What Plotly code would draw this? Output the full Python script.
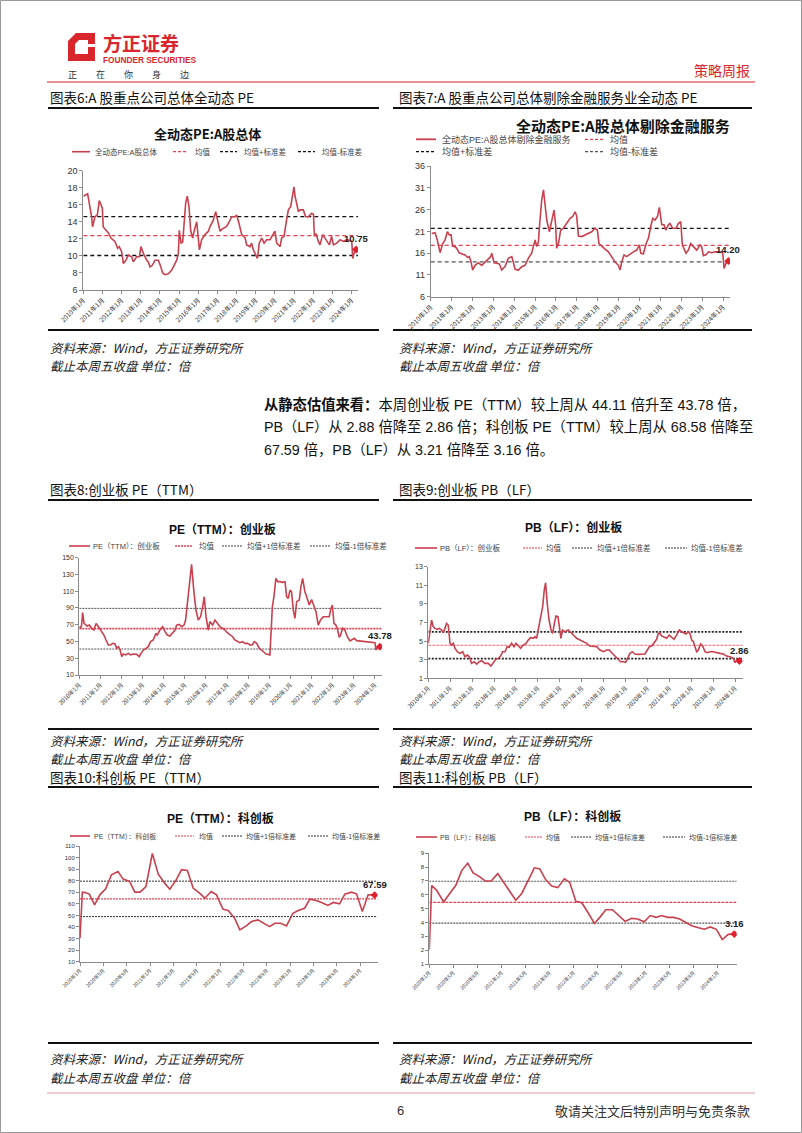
import numpy as np
import pandas as pd
import plotly.graph_objects as go

W, H = 802, 1133
CN = "Noto Sans CJK SC"
MIX = "Liberation Sans, Noto Sans CJK SC"

# ---------------- data: month offsets from series start / values ----------------
c6_m = [0, 2.7, 5.2, 5.8, 7.3, 8.8, 10.0, 11.1, 11.9, 12.5,
        13.6, 15.7, 17.3, 19.8, 21.5, 22.5, 24.0, 25.1, 26.7, 28.2,
        30.3, 31.3, 33.4, 35.1, 36.1, 37.6, 39.7, 40.7, 41.8, 43.2,
        44.9, 47.0, 48.4, 49.7, 51.1, 53.2, 55.3, 57.4, 58.5, 59.5,
        60.1, 61.2, 62.2, 63.3, 64.1, 65.1, 66.2, 67.2, 68.5, 69.5,
        71.0, 72.7, 74.1, 76.2, 78.3, 79.3, 81.4, 82.9, 84.6, 85.6,
        87.3, 89.4, 90.8, 92.9, 95.0, 96.0, 97.5, 99.2, 101.3, 102.3,
        104.4, 105.4, 106.5, 108.1, 109.0, 110.2, 111.7, 113.2, 114.8, 116.9,
        119.0, 120.0, 121.1, 122.1, 123.2, 124.2, 125.7, 126.9, 128.4, 129.9,
        130.9, 131.9, 132.6, 133.6, 134.7, 135.7, 137.8, 139.2, 140.9, 143.0,
        144.1, 144.7, 145.7, 147.2, 148.2, 149.9, 151.4, 152.4, 154.1, 155.5,
        156.6, 158.7, 160.8, 162.8, 164.9, 167.0, 168.1, 168.7, 169.5, 170.8]
c6_v = [17.0, 17.3, 14.6, 13.4, 14.6, 14.8, 16.5, 15.8, 15.6, 13.4,
        13.2, 12.7, 12.1, 11.7, 10.9, 11.1, 10.5, 9.1, 9.5, 10.1,
        9.9, 9.3, 9.9, 9.9, 11.1, 10.3, 9.5, 9.3, 8.7, 8.9,
        9.5, 9.5, 8.8, 8.0, 7.8, 7.9, 8.3, 9.1, 9.5, 10.3,
        13.0, 11.5, 11.6, 14.2, 16.2, 17.0, 15.8, 13.0, 12.1, 13.0,
        14.0, 10.7, 11.9, 12.5, 12.9, 13.4, 14.2, 15.2, 13.8, 12.9,
        13.2, 13.4, 13.8, 14.6, 14.6, 14.8, 13.8, 12.5, 12.1, 11.3,
        11.1, 11.5, 10.7, 9.9, 9.7, 11.5, 12.1, 11.5, 11.9, 11.9,
        12.5, 12.9, 11.5, 11.3, 11.1, 12.1, 12.3, 13.8, 15.4, 15.8,
        17.3, 18.1, 17.0, 16.2, 15.2, 15.4, 15.4, 14.6, 14.6, 15.0,
        14.9, 12.3, 12.6, 11.7, 11.3, 12.5, 12.1, 11.7, 11.3, 12.3,
        11.3, 11.5, 11.9, 11.7, 11.9, 11.8, 11.7, 9.7, 10.3, 10.75]
c6_ref = [12.37, 14.6, 10.05]

c7_m = [0.6, 2.5, 3.8, 5.4, 6.9, 8.2, 9.6, 10.7, 11.7, 12.6,
        14.0, 14.9, 16.5, 17.8, 19.7, 21.3, 22.2, 23.2, 24.1, 25.5,
        27.4, 29.3, 31.2, 33.1, 34.5, 35.1, 36.4, 37.9, 39.5, 40.8,
        42.7, 44.6, 46.6, 48.5, 50.4, 52.3, 54.2, 56.1, 58.0, 59.0,
        60.0, 60.9, 61.9, 62.8, 63.8, 64.8, 65.7, 66.7, 68.2, 69.5,
        70.9, 71.8, 72.4, 73.4, 74.7, 76.2, 78.2, 80.1, 81.6, 83.0,
        83.9, 84.9, 86.8, 88.7, 90.6, 92.5, 94.4, 95.8, 96.7, 98.3,
        100.2, 102.1, 104.0, 105.9, 107.9, 108.8, 109.8, 111.1, 112.6, 114.6,
        116.5, 118.4, 119.9, 120.7, 122.2, 123.8, 125.1, 126.4, 127.6, 128.9,
        130.3, 131.4, 132.8, 134.1, 135.1, 136.6, 137.5, 139.1, 141.0, 142.3,
        143.7, 144.6, 145.6, 146.7, 148.1, 149.4, 151.0, 152.9, 154.8, 155.7,
        156.7, 158.2, 159.6, 161.5, 163.4, 165.9, 167.8, 168.6, 169.7, 171.1]
c7_v = [20.5, 20.7, 19.0, 16.1, 18.2, 19.0, 20.9, 20.2, 20.2, 17.6,
        17.5, 17.1, 16.0, 15.8, 15.6, 15.0, 15.2, 14.0, 12.1, 13.2,
        13.8, 13.2, 14.0, 14.8, 15.2, 16.0, 13.8, 13.7, 13.5, 12.1,
        12.9, 14.8, 15.2, 12.3, 12.1, 12.9, 13.2, 14.8, 16.0, 17.5,
        19.0, 17.5, 18.6, 23.6, 28.2, 30.5, 27.8, 23.6, 20.9, 23.6,
        25.9, 22.5, 17.1, 18.2, 21.3, 21.7, 22.8, 24.0, 24.4, 25.5,
        24.5, 19.9, 19.8, 20.2, 20.5, 20.9, 21.7, 21.3, 18.2, 17.5,
        16.9, 16.3, 15.2, 14.0, 13.2, 12.1, 14.0, 15.6, 15.2, 15.8,
        16.3, 16.7, 17.9, 16.0, 15.8, 18.2, 19.4, 22.0, 24.0, 23.6,
        24.4, 26.5, 22.5, 22.5, 21.3, 22.5, 22.8, 21.7, 21.7, 22.8,
        23.2, 17.9, 17.1, 16.0, 16.7, 18.2, 17.5, 16.7, 17.9, 17.5,
        15.4, 15.6, 16.3, 16.1, 16.3, 16.3, 16.1, 12.5, 13.7, 14.2]
c7_ref = [17.8, 21.7, 14.0]

c8_m = [0, 0.8, 1.3, 1.9, 2.7, 3.6, 4.5, 5.7, 7.0, 8.3,
        9.5, 10.2, 11.4, 12.7, 14.0, 15.2, 16.5, 17.8, 18.9, 20.3,
        21.2, 22.2, 23.1, 24.1, 25.0, 26.5, 27.8, 29.2, 30.7, 32.6,
        34.1, 34.8, 36.4, 37.9, 39.2, 40.5, 42.0, 43.6, 44.3, 45.8,
        47.3, 48.7, 50.0, 51.5, 53.0, 54.4, 55.3, 56.8, 58.1, 59.5,
        60.4, 61.4, 62.5, 63.8, 65.2, 66.3, 67.6, 68.9, 70.1, 71.0,
        72.0, 73.3, 74.2, 75.8, 77.1, 78.4, 79.9, 81.4, 82.8, 84.1,
        85.6, 87.1, 88.4, 90.0, 91.3, 92.8, 94.1, 95.5, 97.0, 98.3,
        99.4, 100.8, 102.3, 103.6, 104.9, 106.1, 107.4, 108.3, 109.7, 110.6,
        111.7, 112.7, 114.0, 115.3, 116.9, 117.8, 118.8, 119.7, 120.6, 121.6,
        122.5, 123.5, 125.0, 125.9, 126.9, 128.2, 129.2, 130.7, 132.0, 133.3,
        134.5, 135.8, 137.1, 138.6, 140.5, 142.0, 143.0, 143.8, 144.7, 145.8,
        146.8, 147.7, 148.5, 149.6, 150.9, 152.3, 153.8, 155.1, 156.3, 157.6,
        159.5, 162.3, 165.2, 168.0, 168.6, 169.3, 170.8]
c8_v = [67.7, 65.7, 69.6, 84.4, 71.6, 69.6, 68.4, 69.6, 65.7, 63.7,
        71.6, 69.6, 65.7, 61.7, 57.7, 51.8, 45.8, 45.8, 47.8, 47.0,
        41.8, 43.8, 40.6, 31.9, 35.0, 33.9, 35.8, 33.9, 35.0, 34.6,
        31.9, 35.0, 39.8, 41.8, 43.8, 49.8, 51.8, 59.7, 57.7, 63.7,
        67.7, 61.7, 57.7, 56.5, 60.5, 63.7, 69.6, 70.4, 67.7, 69.6,
        75.6, 95.5, 115.4, 142.0, 107.4, 87.5, 75.6, 79.6, 91.5, 103.4,
        79.6, 63.7, 73.7, 69.6, 75.6, 71.6, 67.7, 65.7, 63.7, 60.5,
        57.7, 55.7, 51.8, 49.8, 48.6, 49.8, 47.8, 47.8, 45.8, 45.8,
        49.8, 47.8, 41.8, 39.8, 36.6, 35.0, 34.6, 33.9, 91.5, 103.4,
        125.3, 121.4, 121.4, 120.6, 121.4, 103.4, 101.5, 111.4, 109.4, 87.5,
        77.6, 97.5, 99.5, 115.4, 125.3, 109.4, 103.4, 93.5, 100.2, 91.5,
        85.6, 69.6, 75.6, 79.6, 79.6, 79.6, 89.5, 93.5, 71.6, 69.6,
        63.7, 55.0, 57.7, 65.7, 63.7, 55.7, 50.6, 52.6, 53.8, 51.0,
        50.6, 49.8, 49.0, 48.6, 39.8, 43.0, 43.78]
c8_ref = [65.3, 89.5, 41.0]

c9_m = [0, 0.9, 1.8, 2.7, 3.6, 4.9, 6.0, 7.3, 8.2, 9.1,
        10.0, 10.9, 11.9, 12.8, 13.7, 14.6, 15.9, 17.3, 18.8, 20.1,
        21.4, 22.4, 23.7, 25.0, 26.5, 27.9, 29.2, 31.0, 32.8, 34.3,
        35.6, 36.9, 38.3, 39.6, 40.7, 42.0, 43.2, 44.3, 45.6, 46.9,
        48.0, 49.3, 50.5, 52.0, 53.5, 54.7, 56.0, 57.5, 58.4, 59.3,
        60.2, 61.5, 62.6, 63.5, 64.2, 65.1, 66.1, 67.2, 68.1, 69.0,
        69.9, 71.0, 71.7, 72.6, 73.5, 74.8, 76.6, 77.9, 79.4, 81.2,
        83.0, 84.9, 86.7, 88.5, 90.3, 92.2, 94.0, 95.8, 97.6, 99.1,
        100.4, 102.2, 104.0, 105.3, 106.8, 108.0, 109.1, 110.4, 111.7, 113.1,
        115.0, 116.8, 118.6, 119.9, 121.0, 122.3, 123.5, 125.0, 125.9, 126.8,
        127.7, 129.0, 130.5, 131.9, 133.2, 134.5, 135.9, 137.4, 138.7, 140.0,
        141.1, 142.3, 143.2, 144.2, 145.1, 146.0, 146.9, 147.8, 149.1, 150.2,
        151.5, 152.7, 154.2, 156.0, 157.8, 159.7, 161.5, 163.3, 165.1, 167.0,
        167.9, 168.8, 170.3]
c9_v = [4.76, 6.19, 7.27, 6.55, 6.37, 6.26, 6.37, 6.19, 5.9, 6.37,
        6.9, 6.73, 4.76, 4.58, 4.76, 4.22, 3.86, 3.68, 3.86, 3.32,
        3.5, 3.32, 2.61, 2.78, 2.53, 2.78, 2.89, 2.61, 2.61, 2.32,
        2.68, 3.04, 3.14, 3.39, 3.86, 3.86, 4.4, 4.33, 4.76, 4.4,
        4.76, 4.47, 4.22, 4.58, 4.76, 5.11, 5.37, 5.3, 5.47, 5.3,
        6.19, 7.63, 8.7, 10.5, 11.28, 9.06, 7.27, 6.19, 5.83, 6.9,
        7.7, 7.63, 6.37, 5.3, 6.19, 6.0, 6.19, 5.9, 5.65, 5.3,
        5.11, 5.0, 4.76, 4.47, 4.4, 4.4, 4.04, 3.86, 4.04, 4.04,
        3.75, 3.39, 3.04, 2.78, 2.78, 2.71, 3.14, 3.68, 3.86, 3.61,
        3.57, 3.61, 3.61, 4.04, 4.4, 4.47, 4.76, 5.19, 5.83, 5.83,
        5.55, 5.4, 5.3, 5.65, 5.47, 5.19, 5.65, 6.19, 6.0, 5.83,
        5.76, 6.0, 5.83, 5.11, 4.94, 4.4, 3.86, 4.04, 4.69, 4.47,
        3.86, 3.75, 3.86, 3.86, 3.75, 3.68, 3.61, 3.39, 3.32, 3.14,
        2.68, 2.96, 2.86]
c9_ref = [4.55, 6.0, 3.12]

c10_m = [0, 0.4, 0.9, 1.6, 2.5, 3.4, 4.4, 5.4, 6.5, 7.4,
         8.5, 9.4, 10.3, 11.3, 12.4, 13.4, 14.5, 15.4, 16.5, 17.4,
         18.4, 19.4, 20.5, 21.4, 22.5, 23.4, 24.5, 25.4, 26.5, 27.4,
         28.5, 29.4, 30.5, 31.4, 32.5, 33.4, 34.4, 35.4, 36.5, 37.4,
         38.5, 39.4, 40.5, 41.4, 42.5, 43.4, 44.5, 45.4, 46.5, 47.4,
         48.4, 49.4, 50.5]
c10_v = [30.2, 70.1, 69.8, 68.4, 59.1, 67.8, 73.0, 85.1, 88.0, 81.4,
         79.4, 70.1, 70.1, 75.0, 103.5, 85.9, 77.9, 72.7, 80.8, 89.5,
         88.9, 73.6, 69.2, 64.9, 70.7, 67.8, 55.4, 54.2, 47.6, 37.5,
         40.9, 44.7, 46.1, 43.8, 40.3, 43.2, 43.2, 40.9, 51.9, 54.2,
         56.2, 64.0, 62.9, 61.2, 58.6, 61.2, 60.0, 68.4, 70.1, 68.7,
         53.4, 67.8, 67.59]
c10_ref = [64.3, 79.6, 49.0]

c11_m = [0, 0.4, 1.2, 2.4, 3.4, 4.4, 5.4, 6.4, 7.3, 8.3,
         9.3, 10.3, 11.4, 12.3, 13.4, 14.4, 15.4, 16.4, 17.5, 18.4,
         19.4, 20.4, 21.4, 22.5, 23.4, 24.4, 25.4, 26.4, 27.5, 28.4,
         29.4, 30.5, 31.5, 32.6, 33.7, 34.7, 35.8, 36.8, 37.8, 38.7,
         39.7, 40.7, 41.7, 42.7, 43.7, 44.7, 45.8, 46.8, 47.8, 48.8,
         49.8, 50.8]
c11_v = [2.03, 6.67, 6.34, 5.48, 6.1, 6.67, 7.75, 8.29, 7.58, 7.33,
         7.0, 7.0, 7.53, 6.96, 6.22, 5.61, 6.1, 7.0, 7.95, 7.87,
         7.08, 6.64, 6.52, 7.16, 6.89, 5.53, 5.43, 4.74, 3.93, 4.37,
         4.92, 4.92, 4.5, 4.08, 4.3, 4.25, 4.05, 4.5, 4.37, 4.5,
         4.37, 4.37, 4.25, 4.0, 3.76, 3.64, 3.51, 3.68, 3.51, 2.77,
         3.14, 3.16]
c11_ref = [5.46, 6.98, 3.95]

long_ticks = ["2010年1月", "2011年1月", "2012年1月", "2013年1月", "2014年1月",
              "2015年1月", "2016年1月", "2017年1月", "2018年1月", "2019年1月",
              "2020年1月", "2021年1月", "2022年1月", "2023年1月", "2024年1月"]
short_ticks = ["2020年1月", "2020年5月", "2020年9月", "2021年1月", "2021年5月",
               "2021年9月", "2022年1月", "2022年5月", "2022年9月", "2023年1月",
               "2023年5月", "2023年9月", "2024年1月"]
long_tickvals = pd.date_range("2010-01-01", periods=len(long_ticks), freq="12MS")
short_tickvals = pd.date_range("2020-01-01", periods=len(short_ticks), freq="4MS")


def to_dates(start, months):
    return pd.Timestamp(start) + pd.to_timedelta(np.asarray(months, dtype=float) * 30.436875, unit="D")


LINE = "#C7414F"
RED = "#E8404F"

charts = [
    dict(start="2010-01-01", m=c6_m, v=c6_v, ref=c6_ref, span=172,
         xd=(83.3, 358), yd=(170.7, 290), yr=(6, 20), dt=2,
         tv=long_tickvals, tt=long_ticks, yfs=9, xfs=6.5, lab="10.75",
         styles=[(RED, "4px,3px", 1.3), ("#111", "4px,3px", 1.3), ("#111", "4px,3px", 1.3)]),
    dict(start="2010-01-01", m=c7_m, v=c7_v, ref=c7_ref, span=172,
         xd=(430.7, 730), yd=(166, 296.7), yr=(6, 36), dt=5,
         tv=long_tickvals, tt=long_ticks, yfs=9, xfs=6.5, lab="14.20",
         styles=[(RED, "4px,3px", 1.3), ("#111", "4px,3px", 1.3), ("#555", "4px,3px", 1.3)]),
    dict(start="2010-01-01", m=c8_m, v=c8_v, ref=c8_ref, span=172,
         xd=(79.3, 382), yd=(557.7, 675), yr=(10, 150), dt=20,
         tv=long_tickvals, tt=long_ticks, yfs=7, xfs=6, lab="43.78",
         styles=[(RED, "2px,1px", 1.6), ("#555", "2px,1px", 1.0), ("#555", "2px,1px", 1.0)]),
    dict(start="2010-01-01", m=c9_m, v=c9_v, ref=c9_ref, span=172,
         xd=(428.3, 742.5), yd=(566.7, 678.3), yr=(1, 13), dt=2,
         tv=long_tickvals, tt=long_ticks, yfs=7, xfs=6, lab="2.86",
         styles=[(RED, "3px,1px", 0.8), ("#222", "2px,1.5px", 1.8), ("#222", "2px,1.5px", 1.8)]),
    dict(start="2020-01-01", m=c10_m, v=c10_v, ref=c10_ref, span=51,
         xd=(80, 377.5), yd=(846, 961.7), yr=(10, 110), dt=10,
         tv=short_tickvals, tt=short_ticks, yfs=6, xfs=5, lab="67.59",
         styles=[(RED, "2px,1px", 1.2), ("#333", "2px,1px", 1.0), ("#333", "2px,1px", 1.0)]),
    dict(start="2020-01-01", m=c11_m, v=c11_v, ref=c11_ref, span=51.2,
         xd=(429.3, 736.7), yd=(853.3, 964), yr=(1, 9), dt=1,
         tv=short_tickvals, tt=short_ticks, yfs=6, xfs=5, lab="3.16",
         styles=[(RED, "3px,1px", 1.2), ("#555", "2px,1px", 1.2), ("#555", "2px,1px", 1.2)]),
]

fig = go.Figure()
ann, shapes = [], []
layout = {}


def text(x, y, s, size, color="#222", anchor="left", family=CN):
    ann.append(dict(x=x / W, y=1 - y / H, xref="paper", yref="paper", text=s, showarrow=False,
                    xanchor=anchor, yanchor="middle",
                    font=dict(size=size, color=color, family=family)))


def hline(x0, x1, y, color, width, dash="solid"):
    shapes.append(dict(type="line", xref="paper", yref="paper", x0=x0 / W, x1=x1 / W,
                       y0=1 - y / H, y1=1 - y / H, line=dict(color=color, width=width, dash=dash)))


for i, c in enumerate(charts, start=1):
    xr = "x" if i == 1 else f"x{i}"
    yr = "y" if i == 1 else f"y{i}"
    n = min(len(c["m"]), len(c["v"]))
    d = to_dates(c["start"], c["m"][:n])
    vals = c["v"][:n]
    x0 = to_dates(c["start"], [0])[0]
    x1 = to_dates(c["start"], [c["span"]])[0]
    for val, (col, dash, wd) in zip(c["ref"], c["styles"]):
        fig.add_trace(go.Scatter(x=[x0, x1], y=[val, val], mode="lines", xaxis=xr, yaxis=yr,
                                 line=dict(color=col, width=wd, dash=dash), showlegend=False,
                                 hoverinfo="skip"))
    fig.add_trace(go.Scatter(x=d, y=vals, mode="lines", xaxis=xr, yaxis=yr,
                             line=dict(color=LINE, width=1.6), showlegend=False))
    fig.add_trace(go.Scatter(x=[d[-1]], y=[vals[-1]], mode="markers", xaxis=xr, yaxis=yr,
                             marker=dict(symbol="diamond", size=6, color="#E0202E"), showlegend=False))
    ann.append(dict(x=d[-1], y=vals[-1], xref=xr, yref=yr, text=f"<b>{c['lab']}</b>",
                    showarrow=False, yshift=11, xanchor="center",
                    font=dict(size=9.5, color="#222", family=MIX)))
    xa = "xaxis" if i == 1 else f"xaxis{i}"
    ya = "yaxis" if i == 1 else f"yaxis{i}"
    layout[xa] = dict(domain=[c["xd"][0] / W, c["xd"][1] / W], anchor=yr, type="date",
                      range=[x0, x1], showgrid=False, zeroline=False, showline=True,
                      automargin=False,
                      linecolor="#8a8a8a", linewidth=1, ticks="outside", ticklen=3,
                      tickcolor="#8a8a8a", tickvals=list(c["tv"]), ticktext=c["tt"],
                      tickangle=-45, tickfont=dict(size=c["xfs"], color="#333", family=CN))
    layout[ya] = dict(domain=[1 - c["yd"][1] / H, 1 - c["yd"][0] / H], anchor=xr,
                      range=list(c["yr"]), dtick=c["dt"], tick0=c["yr"][0], showgrid=False,
                      automargin=False,
                      zeroline=False, showline=True, linecolor="#8a8a8a", linewidth=1,
                      ticks="outside", ticklen=3, tickcolor="#8a8a8a",
                      tickfont=dict(size=c["yfs"], color="#333", family=MIX))

# ---------------- chart titles ----------------
text(207, 133, "<b>全动态PE:A股总体</b>", 13, "#111", "center")
text(623, 125, "<b>全动态PE:A股总体剔除金融服务</b>", 15, "#111", "center")
text(222, 529, "<b>PE（TTM）：创业板</b>", 12, "#111", "center", MIX)
text(573, 527, "<b>PB（LF）：创业板</b>", 12, "#111", "center", MIX)
text(220, 818, "<b>PE（TTM）：科创板</b>", 12, "#111", "center", MIX)
text(572, 816, "<b>PB（LF）：科创板</b>", 12, "#111", "center", MIX)

# ---------------- legends (drawn) ----------------
legends = [
    (151.7, 7.5, [((72, 90), LINE, "solid", 1.6, 93, "全动态PE:A股总体"),
                  ((173, 188), RED, "3px,2px", 1.2, 193, "均值"),
                  ((220, 237), "#111", "3px,2px", 1.2, 242, "均值+标准差"),
                  ((298, 315), "#111", "3px,2px", 1.2, 320, "均值-标准差")]),
    (139.3, 9, [((416, 436), LINE, "solid", 1.8, 440, "全动态PE:A股总体剔除金融服务"),
                ((585, 603), RED, "3px,2px", 1.2, 608, "均值")]),
    (151.7, 9, [((416, 436), "#111", "3px,2px", 1.2, 440, "均值+标准差"),
                ((585, 603), "#555", "3px,2px", 1.2, 608, "均值-标准差")]),
    (546, 7.5, [((69, 90), LINE, "solid", 1.6, 91, "PE（TTM）：创业板"),
                ((175, 193), RED, "2px,1px", 1.4, 197, "均值"),
                ((222, 243), "#444", "2px,1px", 1.0, 245, "均值+1倍标准差"),
                ((310, 330), "#444", "2px,1px", 1.0, 333, "均值-1倍标准差")]),
    (548, 7.5, [((415, 437), LINE, "solid", 1.6, 438, "PB（LF）：创业板"),
                ((523, 542), RED, "2px,1px", 1.0, 544, "均值"),
                ((572, 593), "#333", "2px,1px", 1.0, 595, "均值+1倍标准差"),
                ((665, 687), "#333", "2px,1px", 1.0, 689, "均值-1倍标准差")]),
    (836, 7, [((70, 90), LINE, "solid", 1.6, 92, "PE（TTM）：科创板"),
              ((175, 194), RED, "2px,1px", 1.2, 197, "均值"),
              ((222, 242), "#333", "2px,1px", 1.0, 244, "均值+1倍标准差"),
              ((308, 328), "#333", "2px,1px", 1.0, 330, "均值-1倍标准差")]),
    (837, 7, [((416, 437), LINE, "solid", 1.6, 438, "PB（LF）：科创板"),
              ((525, 543), RED, "2px,1px", 1.2, 544, "均值"),
              ((571, 592), "#333", "2px,1px", 1.0, 593, "均值+1倍标准差"),
              ((663, 685), "#333", "2px,1px", 1.0, 687, "均值-1倍标准差")]),
]
for y, fs, items in legends:
    for (a, b), col, dash, wd, tx, label in items:
        hline(a, b, y, col, wd, dash)
        text(tx, y, label, fs, "#444", "left", MIX)

# ---------------- page furniture ----------------
LOGO = "#D9262C"
shapes.append(dict(type="path", xref="paper", yref="paper",
                   path="M {} {} L {} {} L {} {} L {} {} L {} {} Z".format(
                       68 / W, 1 - 41 / H, 76 / W, 1 - 33 / H, 95 / W, 1 - 33 / H,
                       95 / W, 1 - 61 / H, 68 / W, 1 - 61 / H),
                   fillcolor=LOGO, line=dict(width=0)))
shapes.append(dict(type="path", xref="paper", yref="paper",
                   path="M {} {} L {} {} L {} {} L {} {} L {} {} Z".format(
                       75 / W, 1 - 44 / H, 79 / W, 1 - 40 / H, 88 / W, 1 - 40 / H,
                       88 / W, 1 - 54 / H, 75 / W, 1 - 54 / H),
                   fillcolor="white", line=dict(width=0)))
shapes.append(dict(type="rect", xref="paper", yref="paper", x0=88 / W, x1=96 / W,
                   y0=1 - 47 / H, y1=1 - 44 / H, fillcolor="white", line=dict(width=0)))
text(101, 42, "<b>方正证券</b>", 19, LOGO, "left", CN)
text(101, 60, "<b>FOUNDER SECURITIES</b>", 8.3, LOGO, "left", MIX)
for cx, ch in zip([72, 100, 128, 156, 184], ["正", "在", "你", "身", "边"]):
    text(cx, 74, ch, 9, "#333", "center", CN)
text(752, 70, "策略周报", 14, LOGO, "right", CN)
hline(47, 755, 82, LOGO, 1.2)

# section headers
text(48, 97, "图表6:A 股重点公司总体全动态 PE", 13.5, "#111")
text(397, 97, "图表7:A 股重点公司总体剔除金融服务业全动态 PE", 13.5, "#111")
text(48, 489, "图表8:创业板 PE（TTM）", 13.5, "#111")
text(397, 489, "图表9:创业板 PB（LF）", 13.5, "#111")
text(48, 777, "图表10:科创板 PE（TTM）", 13.5, "#111")
text(397, 777, "图表11:科创板 PB（LF）", 13.5, "#111")

for y in [108, 330, 500, 729, 787, 1043]:
    hline(48, 379, y, "#111", 2)
    hline(393, 752, y, "#111", 2)

for y1, y2 in [(347, 366), (740, 758), (1058, 1077)]:
    for x in (48, 397):
        text(x, y1, "<i>资料来源：Wind，方正证券研究所</i>", 12.5, "#222")
        text(x, y2, "<i>截止本周五收盘 单位：倍</i>", 12.5, "#222")

text(262, 404, "<b>从静态估值来看：</b>本周创业板 PE（TTM）较上周从 44.11 倍升至 43.78 倍，", 14.3, "#111", "left", MIX)
text(262, 427, "PB（LF）从 2.88 倍降至 2.86 倍；科创板 PE（TTM）较上周从 68.58 倍降至", 14.3, "#111", "left", MIX)
text(262, 450, "67.59 倍，PB（LF）从 3.21 倍降至 3.16 倍。", 14.3, "#111", "left", MIX)

hline(47, 755, 1093, "#E79AA5", 1)
text(400, 1110, "6", 13, "#333", "center", MIX)
text(752, 1110, "敬请关注文后特别声明与免责条款", 13, "#333", "right", CN)

shapes.append(dict(type="rect", xref="paper", yref="paper", x0=0.5 / W, x1=1 - 0.5 / W,
                   y0=0.5 / H, y1=1 - 0.5 / H, line=dict(color="#999", width=1)))

fig.update_layout(template="none", width=W, height=H,
                  margin=dict(l=0, r=0, t=0, b=0, pad=0, autoexpand=False),
                  paper_bgcolor="white", plot_bgcolor="white", showlegend=False,
                  annotations=ann, shapes=shapes, **layout)
fig.write_html("out.html")
